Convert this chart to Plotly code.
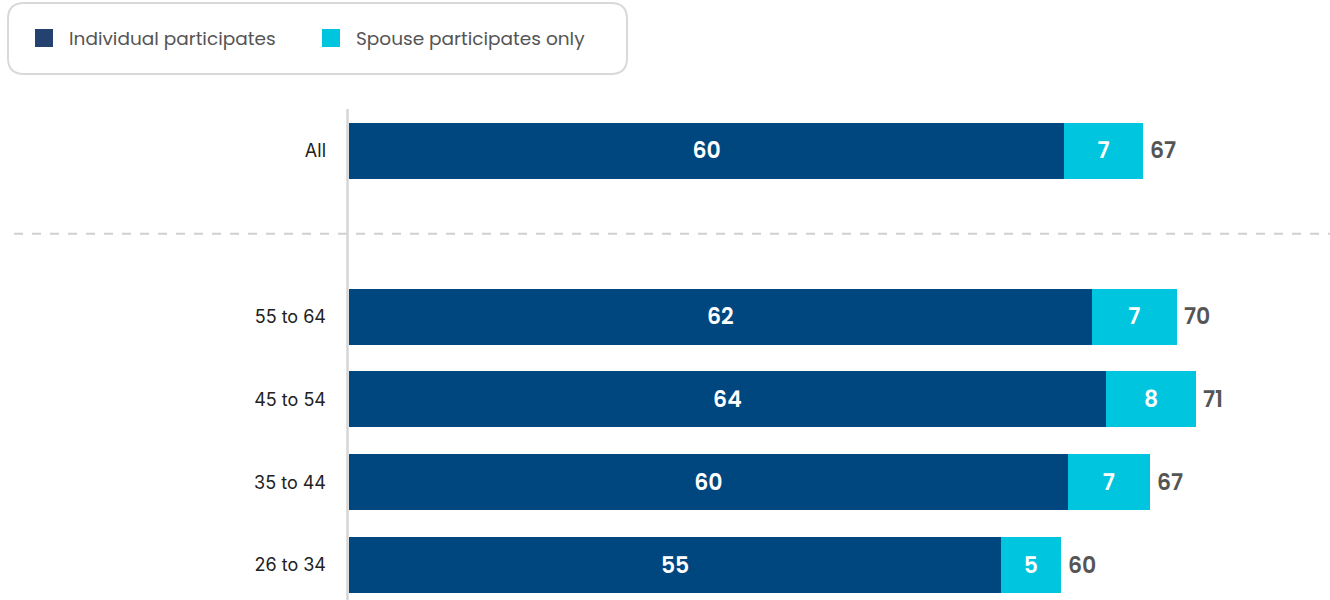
import plotly.graph_objects as go

# Data
groups = ["All", "55 to 64", "45 to 54", "35 to 44", "26 to 34"]
individual = [60.1, 62.4, 63.6, 60.4, 54.8]
spouse_only = [6.6, 7.2, 7.6, 6.9, 5.0]
totals = [67, 70, 71, 67, 60]

DARK = "#00467F"
CYAN = "#00C5DE"
FONT = "Poppins, Lato, 'Open Sans', sans-serif"

W, H = 1330, 600
L, T = 349, 109
PW, PH = W - L, H - T


# "All" sits apart from the age groups, with an empty slot between
categories = [groups[0], " "] + groups[1:]


def spaced(vals):
    return [vals[0], None] + list(vals[1:])


def px(x):
    return (x - L) / PW


def py(y):
    return (H - y) / PH


fig = go.Figure()

for name, vals, color in [("Individual participates", individual, DARK),
                          ("Spouse participates only", spouse_only, CYAN)]:
    fig.add_trace(go.Bar(
        y=categories,
        x=spaced(vals),
        orientation="h",
        name=name,
        marker=dict(color=color, line=dict(width=0)),
        texttemplate="%{x:.0f}",
        textposition="inside",
        insidetextanchor="middle",
        textfont=dict(color="white", size=22, family=FONT, weight=600),
        hoverinfo="skip",
    ))

# totals to the right of each bar
for g, a, b, t in zip(groups, individual, spouse_only, totals):
    fig.add_annotation(x=a + b, y=g, text=str(t), showarrow=False,
                       xanchor="left", yanchor="middle", xshift=5,
                       font=dict(color="#555555", size=22, family=FONT, weight=600))

# separator, axis line
fig.add_shape(type="line", xref="paper", yref="y",
              x0=px(14), x1=1, y0=1, y1=1,
              line=dict(color="#D0D0D0", width=2, dash="dash"))
fig.add_shape(type="line", xref="paper", yref="paper",
              x0=px(347.5), x1=px(347.5), y0=0, y1=1,
              line=dict(color="#D6D6D6", width=2.5))

# legend box (rounded)
x0, x1, y0, y1, r = 8, 627, 3, 74, 16
path = (
    f"M {px(x0 + r)},{py(y0)} L {px(x1 - r)},{py(y0)} "
    f"Q {px(x1)},{py(y0)} {px(x1)},{py(y0 + r)} "
    f"L {px(x1)},{py(y1 - r)} Q {px(x1)},{py(y1)} {px(x1 - r)},{py(y1)} "
    f"L {px(x0 + r)},{py(y1)} Q {px(x0)},{py(y1)} {px(x0)},{py(y1 - r)} "
    f"L {px(x0)},{py(y0 + r)} Q {px(x0)},{py(y0)} {px(x0 + r)},{py(y0)} Z"
)
fig.add_shape(type="path", xref="paper", yref="paper", path=path,
              line=dict(color="#D9D9D9", width=2), fillcolor="white")

legend_items = [("Individual participates", "#23426F", 35), ("Spouse participates only", CYAN, 322)]
for label, color, sx in legend_items:
    fig.add_shape(type="rect", xref="paper", yref="paper",
                  x0=px(sx), x1=px(sx + 18), y0=py(47), y1=py(29),
                  line=dict(width=0), fillcolor=color)
    fig.add_annotation(xref="paper", yref="paper", x=px(sx + 32), y=py(39),
                       text=label, showarrow=False, xanchor="left", yanchor="middle",
                       font=dict(size=18.5, color="#555555", family=FONT))

fig.update_layout(
    width=W, height=H,
    margin=dict(l=L, r=0, t=T, b=0),
    barmode="stack",
    bargap=0.325,
    showlegend=False,
    plot_bgcolor="white",
    paper_bgcolor="white",
    font=dict(family=FONT),
    xaxis=dict(range=[0, PW / 11.9], visible=False, fixedrange=True),
    yaxis=dict(
        type="category",
        categoryorder="array",
        categoryarray=categories,
        range=[5 + 35 / 83, -42 / 83],
        showgrid=False, zeroline=False, showline=False,
        ticks="", ticklabelstandoff=22,
        tickfont=dict(size=18, color="#222222", family="Inter, " + FONT),
    ),
)

# drop the default page margin so the chart sits at the window's corner
fig.write_html("out.html", config={"displayModeBar": False},
               post_script="document.body.style.margin='0';")
